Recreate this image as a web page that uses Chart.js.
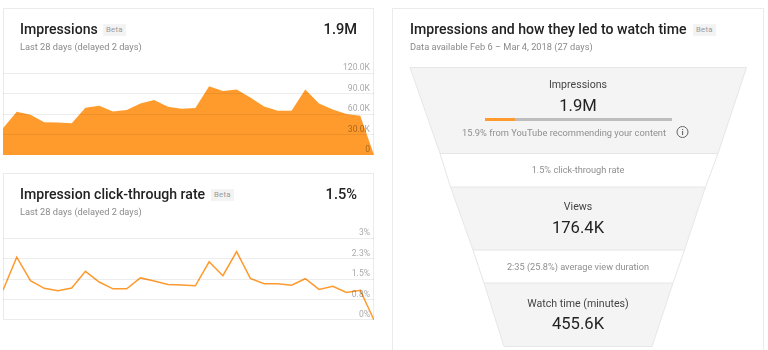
<!DOCTYPE html>
<html><head><meta charset="utf-8">
<script src="https://cdn.jsdelivr.net/npm/chart.js@4"></script>
<style>
html,body{margin:0;padding:0;background:#fff;overflow:hidden}
#root{position:relative;width:768px;height:350px;overflow:hidden;font-family:Roboto,sans-serif;filter:blur(.35px)}
.card{position:absolute;box-sizing:border-box;border:1px solid #ebebeb;background:#fff}
.t{position:absolute;white-space:nowrap;transform:translateY(-50%);line-height:1}
.c{transform:translate(-50%,-50%)}
.r{transform:translate(-100%,-50%)}
.title{font-size:14.1px;font-weight:500;color:#222}
.val{font-size:14.6px;font-weight:500;color:#222}
.sub{font-size:9.25px;color:#8a8a8a}
.beta{font-size:7.8px;color:#9a9a9a;background:#f3f3f3;padding:2px 3px;letter-spacing:.2px}
.stage{font-size:10.6px;color:#444}
.big{font-size:16.6px;color:#222}
.note{font-size:9.2px;color:#8f8f8f}
canvas{position:absolute}
svg{position:absolute;left:0;top:0}
</style></head><body>
<div id="root">
  <div class="card" style="left:3px;top:8px;width:371px;height:147px"></div>
  <div class="card" style="left:3px;top:173px;width:371px;height:147px"></div>
  <div class="card" style="left:392px;top:8px;width:372px;height:350px"></div>

  <div style="position:absolute;left:3px;top:60px;width:371px;height:95px"><canvas id="imp"></canvas></div>
  <div style="position:absolute;left:3px;top:225px;width:371px;height:95px"><canvas id="ctr"></canvas></div>

  <span class="t title" style="left:20px;top:29px">Impressions</span>
  <span class="t beta" style="left:103px;top:30px">Beta</span>
  <span class="t val r" style="left:357px;top:29px">1.9M</span>
  <span class="t sub" style="left:20px;top:47px">Last 28 days (delayed 2 days)</span>

  <span class="t title" style="left:20px;top:194px">Impression click-through rate</span>
  <span class="t beta" style="left:211px;top:195px">Beta</span>
  <span class="t val r" style="left:357px;top:194px">1.5%</span>
  <span class="t sub" style="left:20px;top:212px">Last 28 days (delayed 2 days)</span>

  <span class="t title" style="left:410px;top:29px">Impressions and how they led to watch time</span>
  <span class="t beta" style="left:693px;top:30px">Beta</span>
  <span class="t sub" style="left:410px;top:47px">Data available Feb 6 – Mar 4, 2018 (27 days)</span>

  <svg width="768" height="350">
    <g fill="#f4f4f4" stroke="#e6e6e6" stroke-width="1">
      <polygon points="410,67.5 746.5,67.5 718,153.5 440,153.5"/>
      <polygon points="450.5,187 705.5,187 684.5,250 473,250"/>
      <polygon points="484,283 673,283 652,346.5 504,346.5"/>
    </g>
    <g stroke="#e6e6e6" stroke-width="1">
      <line x1="440" y1="153.5" x2="450.5" y2="187"/>
      <line x1="718" y1="153.5" x2="705.5" y2="187"/>
      <line x1="473" y1="250" x2="484" y2="283"/>
      <line x1="684.5" y1="250" x2="673" y2="283"/>
    </g>
    <rect x="485" y="118" width="30" height="3" fill="#ff9a2e"/>
    <rect x="515" y="118" width="157" height="3" fill="#bdbdbd"/>
    <circle cx="682.5" cy="132" r="5.5" fill="none" stroke="#666" stroke-width="1"/>
    <rect x="682" y="131" width="1.1" height="4" fill="#666"/>
    <rect x="682" y="129" width="1.1" height="1.1" fill="#666"/>
  </svg>

  <span class="t stage c" style="left:578px;top:84.5px">Impressions</span>
  <span class="t big c" style="left:578px;top:105.5px">1.9M</span>
  <span class="t note c" style="left:564px;top:132.5px;font-size:9.3px">15.9% from YouTube recommending your content</span>
  <span class="t note c" style="left:578px;top:170px">1.5% click-through rate</span>
  <span class="t stage c" style="left:578px;top:206.5px">Views</span>
  <span class="t big c" style="left:578px;top:227.5px">176.4K</span>
  <span class="t note c" style="left:578px;top:267px">2:35 (25.8%) average view duration</span>
  <span class="t stage c" style="left:578px;top:303.5px">Watch time (minutes)</span>
  <span class="t big c" style="left:578px;top:323.5px">455.6K</span>
</div>
<script>
const days = Array.from({length:28},(_, i)=>'D'+(i+1));
const impressions = [39200,63200,58800,48000,47500,46500,69000,72000,63700,66000,75500,80400,70500,67600,68600,100500,93600,96000,84000,71000,64700,64700,96000,75500,66600,60000,57300,0];
const clickRate = [1.09,2.3,1.44,1.16,1.07,1.17,1.78,1.39,1.14,1.14,1.54,1.43,1.30,1.28,1.25,2.13,1.62,2.5,1.52,1.33,1.33,1.27,1.51,1.12,1.23,1.01,1.09,0];
const impTicks = {0:'0',30000:'30.0K',60000:'60.0K',90000:'90.0K',120000:'120.0K'};
const ctrTicks = [[0,'0%'],[0.75,'0.8%'],[1.5,'1.5%'],[2.25,'2.3%'],[3,'3%']];
const noPad = s => { s.paddingLeft = 0; s.paddingRight = 0; s.paddingTop = 0; s.paddingBottom = 0; };

function makeChart(id, values, max, step, fmt, fill){
  new Chart(document.getElementById(id),{
    type:'line',
    data:{labels:days,datasets:[{
      data:values,
      borderColor:'#ff9a2e',
      borderWidth:fill?0:1.5,
      backgroundColor:fill?'rgba(255,152,38,.97)':'transparent',
      fill:fill?'origin':false,
      pointRadius:0,
      pointHoverRadius:0,
      tension:0,
      clip:false
    }]},
    options:{
      responsive:true,maintainAspectRatio:false,animation:false,
      layout:{autoPadding:false,padding:{top:13,bottom:0,left:0,right:0}},
      plugins:{legend:{display:false},tooltip:{enabled:false}},
      scales:{
        x:{display:false,offset:false,afterFit:noPad},
        y:{
          position:'right',min:0,max:max,
          afterFit:s=>{noPad(s);s.width=0;},
          border:{display:false},
          grid:{color:'rgba(0,0,0,.07)',lineWidth:1,drawTicks:false,z:1},
          ticks:{mirror:true,z:2,stepSize:step,padding:-4,labelOffset:-5,color:'rgba(0,0,0,.36)',
            font:{family:'Roboto',size:8.6},callback:fmt}
        }
      }
    }
  });
}
makeChart('imp',impressions,120000,30000,v=>impTicks[v],true);
makeChart('ctr',clickRate,3,0.75,v=>{const m=ctrTicks.find(t=>t[0]===v);return m?m[1]:'';},false);
</script>
</body></html>
